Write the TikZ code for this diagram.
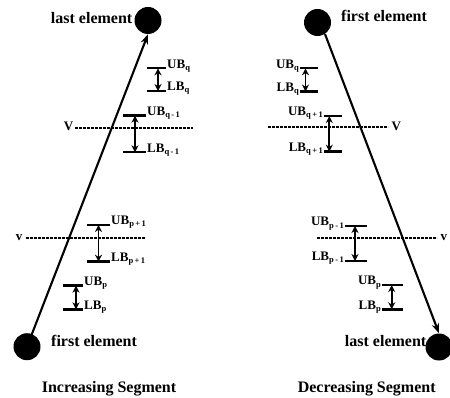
\documentclass[tikz,border=0pt]{standalone}
\usepackage{fontspec}
\setmainfont{Liberation Serif}
\usetikzlibrary{arrows.meta}
\newcommand\lowi[1]{\raisebox{-2pt}{\fontsize{8.5}{9}\selectfont #1}}
\tikzset{
  dot/.style={circle,fill=black,inner sep=0pt,minimum size=27pt},
  bar/.style={line width=2.4pt},
  dbl/.style={line width=1.9pt,{Stealth[length=7pt,width=7pt]}-{Stealth[length=7pt,width=7pt]}},
  mainarrow/.style={line width=2.1pt,-{Stealth[length=10pt,width=7.5pt]}},
  vline/.style={line width=1.9pt,dash pattern=on 2.6pt off 1.4pt},
  txt/.style={font=\bfseries\fontsize{16}{18}\selectfont,inner sep=0pt},
  lbl/.style={font=\bfseries\fontsize{13}{14}\selectfont,inner sep=0pt}
}
\newcommand\bndsR[8]{%
  \coordinate (#1u1) at (#2,#4); \coordinate (#1u2) at (#3,#4);
  \coordinate (#1l1) at (#2,#5); \coordinate (#1l2) at (#3,#5);
  \coordinate (#1au) at (#6,#4); \coordinate (#1al) at (#6,#5);
  \draw[bar] (#1u1) -- (#1u2); \draw[bar] (#1l1) -- (#1l2);
  \draw[dbl] (#1au) -- (#1al);
  \node[lbl,anchor=base west] (#1ut) at ([xshift=1pt]#1u2) {UB\lowi{#7}};
  \node[lbl,anchor=base west] (#1lt) at ([xshift=1pt]#1l2) {LB\lowi{#8}};
}
\newcommand\bndsL[8]{%
  \coordinate (#1u1) at (#2,#4); \coordinate (#1u2) at (#3,#4);
  \coordinate (#1l1) at (#2,#5); \coordinate (#1l2) at (#3,#5);
  \coordinate (#1au) at (#6,#4); \coordinate (#1al) at (#6,#5);
  \draw[bar] (#1u1) -- (#1u2); \draw[bar] (#1l1) -- (#1l2);
  \draw[dbl] (#1au) -- (#1al);
  \node[lbl,anchor=base east] (#1ut) at ([xshift=-1pt]#1u1) {UB\lowi{#7}};
  \node[lbl,anchor=base east] (#1lt) at ([xshift=-1pt]#1l1) {LB\lowi{#8}};
}
\begin{document}
\begin{tikzpicture}[x=1pt,y=-1pt]
\useasboundingbox (0,0) rectangle (450,398);
% ---------- left: increasing segment ----------
\node[dot] (topL) at (148,20.5) {};
\node[dot] (botL) at (27,346.7) {};
\draw[mainarrow] (botL.center) -- (topL.south);
\node[txt,anchor=base east] (lastL) at (132.5,23.3) {last element};
\node[txt,anchor=base west] (firstL) at (51,346.7) {first element};
\node[txt,anchor=base] (capL) at (109,392) {Increasing Segment};

\bndsR{lq}{147}{166}{68.3}{91}{158}{q}{q}
\bndsR{lqm}{123}{146}{115.7}{152.3}{135}{q\,-\,1}{q\,-\,1}
\bndsR{lpp}{87}{110}{225}{261.7}{98.5}{p\,+\,1}{p\,+\,1}
\bndsR{lp}{63}{83}{285.7}{309.3}{76}{p}{p}

\coordinate (VL1) at (75,127.7); \coordinate (VL2) at (193,127.7);
\draw[vline] (VL1) -- (VL2);
\node[lbl,anchor=base east] (VLt) at (73.5,131) {V};
\coordinate (vL1) at (26,238.3); \coordinate (vL2) at (145,238.3);
\draw[vline] (vL1) -- (vL2);
\node[lbl,anchor=base east] (vLt) at (22.5,241) {v};

% ---------- right: decreasing segment ----------
\node[dot] (topR) at (317.5,22.5) {};
\node[dot] (botR) at (439,347) {};
\draw[mainarrow] (topR.-57) -- (botR.north);
\node[txt,anchor=base west] (firstR) at (341,21.7) {first element};
\node[txt,anchor=base east] (lastR) at (426.5,346.7) {last element};
\node[txt,anchor=base] (capR) at (366.7,392.5) {Decreasing Segment};

\bndsL{rq}{300}{318}{68.3}{91.5}{305.5}{q}{q}
\bndsL{rqp}{324}{342}{116}{151.7}{329.3}{q\,+\,1}{q\,+\,1}
\bndsL{rpm}{345}{367}{226}{261}{355}{p\,-\,1}{p\,-\,1}
\bndsL{rp}{382}{403}{285}{309.3}{391.7}{p}{p}

\coordinate (VR1) at (268,127.3); \coordinate (VR2) at (388,127.3);
\draw[vline] (VR1) -- (VR2);
\node[lbl,anchor=base west] (VRt) at (391.5,130.5) {V};
\coordinate (vR1) at (317,238.3); \coordinate (vR2) at (437,238.3);
\draw[vline] (vR1) -- (vR2);
\node[lbl,anchor=base west] (vRt) at (440.5,241) {v};
\end{tikzpicture}
\end{document}
